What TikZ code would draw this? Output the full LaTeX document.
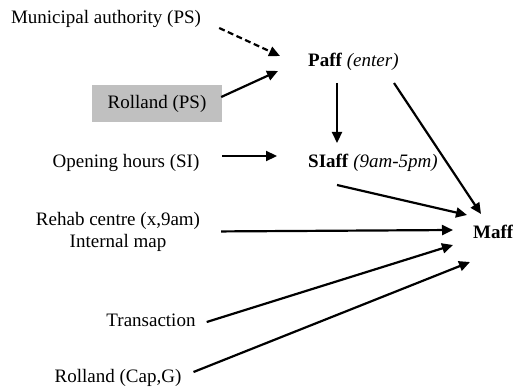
\documentclass[tikz,border=0pt]{standalone}
\usepackage{fontspec}
\setmainfont{Liberation Serif}
\usetikzlibrary{arrows.meta,calc}
\definecolor{boxgray}{RGB}{192,192,192}
\tikzset{
  lbl/.style={inner sep=0pt, anchor=base, font=\fontsize{19}{22}\selectfont},
  grayblock/.style={fill=boxgray, inner sep=0pt, minimum width=130pt, minimum height=37pt,
    font=\fontsize{19}{22}\selectfont},
  link/.style={line width=2.2pt, -{Triangle[length=11pt,width=10pt]}},
  weaklink/.style={link, dash pattern=on 6pt off 3.5pt},
}
\begin{document}
\begin{tikzpicture}[x=1pt, y=-1pt]
\useasboundingbox (0,0) rectangle (513,390);

% sources on the left
\node[lbl] (muni) at (106,24) {Municipal authority (PS)};
\node[grayblock] (rollps) at (157,103.5) {Rolland (PS)};
\node[lbl] (open) at (126,167) {Opening hours (SI)};
\node[lbl, align=center] (rehab) at (118,247) {Rehab centre (x,9am)\\Internal map};
\node[lbl] (trans) at (151,326) {Transaction};
\node[lbl] (rollcap) at (118,382) {Rolland (Cap,G)};

% targets
\node[lbl, anchor=base west] (paff) at (308,67) {\textbf{Paff} \textit{(enter)}};
\node[lbl, anchor=base west] (siaff) at (308,167) {\textbf{SIaff} \textit{(9am-5pm)}};
\node[lbl, anchor=base west] (maff) at (473,238) {\textbf{Maff}};

% influences on Paff
\draw[weaklink] ([shift={(18,4)}]muni.base east) -- ([shift={(-28,-11)}]paff.base west);
\draw[link] ([shift={(-1,-6.5)}]rollps.east) -- ([shift={(-30,4)}]paff.base west);

% influences on SIaff
\draw[link] ([shift={(29,16)}]paff.base west) -- ([shift={(29,-24)}]siaff.base west);
\draw[link] ([shift={(22.6,-11)}]open.base east) -- ([shift={(-31,-11)}]siaff.base west);

% influences on Maff
\draw[link] ([shift={(86,16)}]paff.base west) -- ([shift={(8,-24)}]maff.base west);
\draw[link] ([shift={(29,18)}]siaff.base west) -- ([shift={(-6,-23)}]maff.base west);
\draw[link] ([shift={(21,0)}]rehab.east) -- ([shift={(-20,-8)}]maff.base west);
\draw[link] ([shift={(11,-4)}]trans.base east) -- ([shift={(-20,7)}]maff.base west);
\draw[link] ([shift={(12,-10)}]rollcap.base east) -- ([shift={(-3,24)}]maff.base west);
\end{tikzpicture}
\end{document}
